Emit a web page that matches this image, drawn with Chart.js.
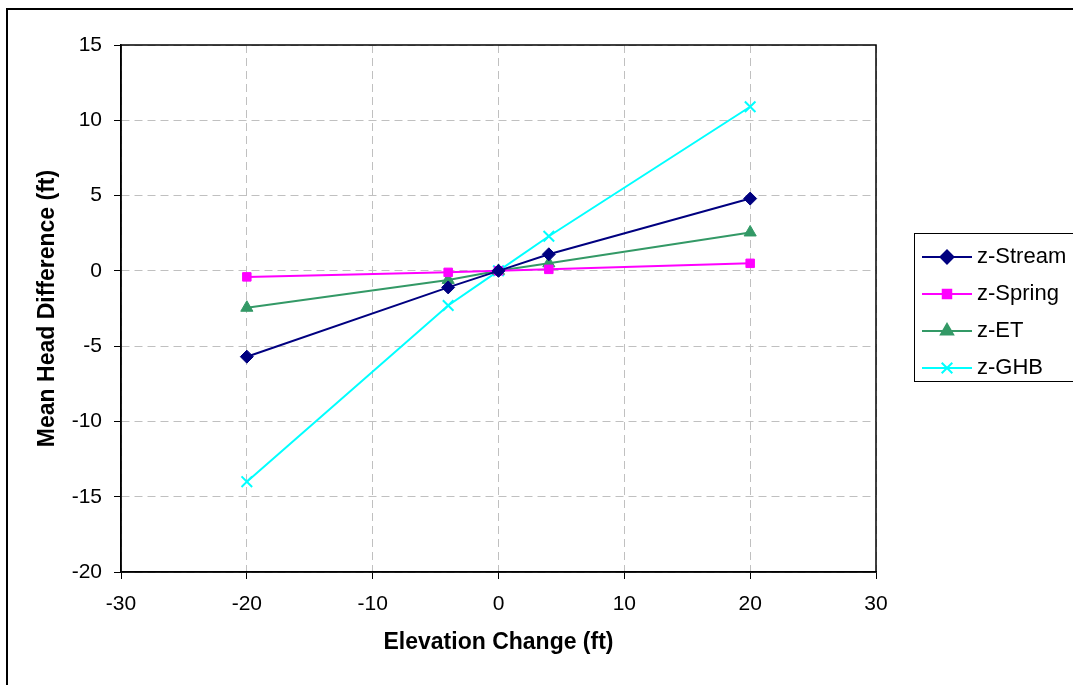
<!DOCTYPE html>
<html>
<head>
<meta charset="utf-8">
<script src="https://cdn.jsdelivr.net/npm/chart.js@4/dist/chart.umd.min.js"></script>
<style>
  html, body { margin: 0; padding: 0; background: #fff; overflow: hidden; }
  canvas { display: block; }
</style>
</head>
<body>
<canvas id="headChart" width="1073" height="685"></canvas>
<script>
// elevation change values (ft)
const elevationChange = [-20, -4, 0, 4, 20];

// mean head difference (ft) per boundary type
const zStream = [-5.7, -1.1, 0, 1.1, 4.8];
const zSpring = [-0.4, -0.1, 0, 0.1, 0.5];
const zET = [-2.45, -0.6, 0, 0.5, 2.55];
const zGHB = [-14.0, -2.3, 0, 2.3, 10.9];

const seriesNames = ['z-Stream', 'z-Spring', 'z-ET', 'z-GHB'];

const FONT = 'Liberation Sans, Arial, sans-serif';

function toPoints(ys) {
    return elevationChange.map((x, i) => ({ x: x, y: ys[i] }));
}

// frame around the plot area + outer chart frame
const framePlugin = {
    id: 'frame',
    afterDraw(chart) {
        const { ctx, chartArea } = chart;
        ctx.save();
        ctx.setLineDash([]);
        ctx.strokeStyle = '#000';
        ctx.lineWidth = 1.5;
        ctx.strokeRect(chartArea.left, chartArea.top,
            chartArea.right - chartArea.left, chartArea.bottom - chartArea.top);
        ctx.lineWidth = 2;
        ctx.strokeRect(7, 9, 1200, 800);
        ctx.restore();
    }
};

// Excel-style boxed legend on the right
const boxLegendPlugin = {
    id: 'boxLegend',
    afterDraw(chart) {
        const { ctx } = chart;
        const left = 914, top = 233, rowGap = 37;
        ctx.save();
        ctx.setLineDash([]);
        ctx.fillStyle = '#fff';
        ctx.fillRect(left, top, 200, 148);
        ctx.strokeStyle = '#000';
        ctx.lineWidth = 1;
        ctx.strokeRect(left + 0.5, top + 0.5, 200, 148);
        chart.data.datasets.forEach((ds, i) => {
            const y = top + 24 + i * rowGap;
            ctx.strokeStyle = ds.borderColor;
            ctx.lineWidth = 2;
            ctx.beginPath();
            ctx.moveTo(left + 8, y);
            ctx.lineTo(left + 58, y);
            ctx.stroke();
            ctx.fillStyle = ds.pointBackgroundColor;
            ctx.strokeStyle = ds.pointBorderColor;
            Chart.helpers.drawPoint(ctx, {
                pointStyle: ds.pointStyle,
                radius: ds.pointRadius,
                rotation: 0,
                borderWidth: ds.pointBorderWidth
            }, left + 33, y);
            ctx.fillStyle = '#000';
            ctx.font = '22px ' + FONT;
            ctx.textBaseline = 'middle';
            ctx.textAlign = 'left';
            ctx.fillText(ds.label, left + 63, y);
        });
        ctx.restore();
    }
};

function makeSet(label, ys, color, style, radius, bw) {
    return {
        label: label,
        data: toPoints(ys),
        borderColor: color,
        backgroundColor: color,
        borderWidth: 2,
        pointStyle: style,
        pointRadius: radius,
        pointHoverRadius: radius,
        pointBackgroundColor: color,
        pointBorderColor: color,
        pointBorderWidth: bw,
        showLine: true,
        tension: 0
    };
}

const gridOpts = {
    color: '#c0c0c0',
    tickLength: 7,
    tickColor: '#000',
    tickBorderDash: [],
    tickWidth: 1
};

new Chart(document.getElementById('headChart'), {
    type: 'scatter',
    data: {
        datasets: [
            makeSet(seriesNames[0], zStream, '#000080', 'rectRot', 6.5, 1),
            makeSet(seriesNames[1], zSpring, '#FF00FF', 'rect', 6, 1),
            makeSet(seriesNames[2], zET, '#339966', 'triangle', 7, 1),
            makeSet(seriesNames[3], zGHB, '#00FFFF', 'crossRot', 7.5, 2)
        ]
    },
    options: {
        responsive: false,
        animation: false,
        layout: { padding: { left: 0, right: 197, top: 45, bottom: 0 } },
        plugins: {
            legend: { display: false },
            tooltip: { enabled: false }
        },
        scales: {
            x: {
                type: 'linear',
                min: -30,
                max: 30,
                afterFit: s => { s.height = 113; },
                ticks: { stepSize: 10, color: '#000', padding: 13, font: { family: FONT, size: 21 } },
                grid: gridOpts,
                border: { display: true, color: '#000', width: 1.5, dash: [8, 5] },
                title: {
                    display: true,
                    text: 'Elevation Change (ft)',
                    color: '#000',
                    font: { family: FONT, size: 23, weight: 'bold' },
                    padding: { top: 0, bottom: 29 }
                }
            },
            y: {
                type: 'linear',
                min: -20,
                max: 15,
                afterFit: s => { s.width = 121; },
                ticks: { stepSize: 5, color: '#000', padding: 12, font: { family: FONT, size: 21 } },
                grid: gridOpts,
                border: { display: true, color: '#000', width: 1.5, dash: [8, 5] },
                title: {
                    display: true,
                    text: 'Mean Head Difference (ft)',
                    color: '#000',
                    font: { family: FONT, size: 23, weight: 'bold' },
                    padding: { top: 34, bottom: 0 }
                }
            }
        }
    },
    plugins: [framePlugin, boxLegendPlugin]
});
</script>
</body>
</html>
